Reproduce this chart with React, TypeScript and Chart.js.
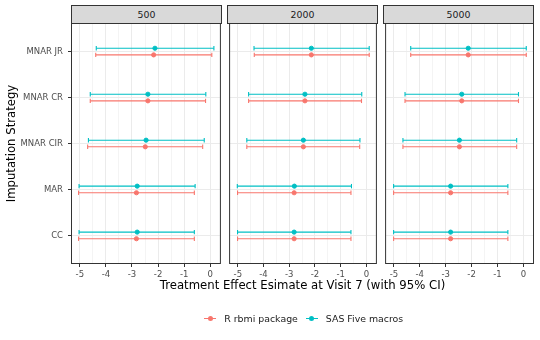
import React, { useEffect, useRef } from "react";
import { Chart, registerables } from "chart.js";

Chart.register(...registerables);

// ---------- data ----------
const STRATEGIES = ["CC", "MAR", "MNAR CIR", "MNAR CR", "MNAR JR"]; // bottom -> top
const SAMPLE_SIZES = ["500", "2000", "5000"];
const SERIES_NAMES = ["R rbmi package", "SAS Five macros"];
const X_TICKS = [-5, -4.5, -4, -3.5, -3, -2.5, -2, -1.5, -1, -0.5, 0];
const X_MIN = -5.3;
const X_MAX = 0.37;
const X_TITLE = "Treatment Effect Esimate at Visit 7 (with 95% CI)";
const Y_TITLE = "Imputation Strategy";

// N = 500
const R_EST_500 = [-2.83, -2.83, -2.49, -2.39, -2.17];
const R_LO_500 = [-5.05, -5.05, -4.7, -4.6, -4.39];
const R_HI_500 = [-0.61, -0.61, -0.29, -0.18, 0.06];
const SAS_EST_500 = [-2.8, -2.8, -2.46, -2.39, -2.12];
const SAS_LO_500 = [-5.03, -5.03, -4.67, -4.6, -4.37];
const SAS_HI_500 = [-0.61, -0.58, -0.23, -0.17, 0.14];

// N = 2000
const R_EST_2000 = [-2.81, -2.81, -2.45, -2.39, -2.14];
const R_LO_2000 = [-5.01, -5.01, -4.65, -4.58, -4.36];
const R_HI_2000 = [-0.6, -0.6, -0.26, -0.19, 0.11];
const SAS_EST_2000 = [-2.81, -2.8, -2.45, -2.39, -2.14];
const SAS_LO_2000 = [-5.01, -5.02, -4.65, -4.58, -4.37];
const SAS_HI_2000 = [-0.6, -0.58, -0.25, -0.18, 0.11];

// N = 5000
const R_EST_5000 = [-2.81, -2.81, -2.47, -2.38, -2.13];
const R_LO_5000 = [-5.01, -5.01, -4.65, -4.57, -4.35];
const R_HI_5000 = [-0.6, -0.6, -0.26, -0.19, 0.11];
const SAS_EST_5000 = [-2.81, -2.81, -2.47, -2.38, -2.13];
const SAS_LO_5000 = [-5.01, -5.01, -4.65, -4.57, -4.35];
const SAS_HI_5000 = [-0.6, -0.6, -0.26, -0.19, 0.11];

const R_EST = [R_EST_500, R_EST_2000, R_EST_5000];
const R_LO = [R_LO_500, R_LO_2000, R_LO_5000];
const R_HI = [R_HI_500, R_HI_2000, R_HI_5000];
const SAS_EST = [SAS_EST_500, SAS_EST_2000, SAS_EST_5000];
const SAS_LO = [SAS_LO_500, SAS_LO_2000, SAS_LO_5000];
const SAS_HI = [SAS_HI_500, SAS_HI_2000, SAS_HI_5000];

// ---------- style / layout ----------
const R_COLOR = "#F8766D";
const SAS_COLOR = "#00BFC4";
const FONT = '"DejaVu Sans", "Liberation Sans", sans-serif';
const W = 540;
const H = 340;
const PANEL_TOP = 24;
const PANEL_BOTTOM = 263;
const PANEL_LEFTS = [72, 228, 384];
const PANEL_WIDTH = 149;
const CANVAS_LEFTS = [0, 225, 381];
const CANVAS_RIGHTS = [225, 381, 540];
const X_AXIS_H = 20;
const DODGE = 0.072;
const TICK_FONT = 8.5;

Chart.defaults.font.family = FONT;

const panelBorder = {
  id: "panelBorder",
  afterDraw(chart: any) {
    const { ctx, chartArea } = chart;
    ctx.save();
    ctx.strokeStyle = "#333333";
    ctx.lineWidth = 1;
    ctx.strokeRect(
      chartArea.left - 0.5,
      chartArea.top - 0.5,
      chartArea.right - chartArea.left + 1,
      chartArea.bottom - chartArea.top + 1
    );
    ctx.restore();
  },
};

function ciDatasets(est: number[], lo: number[], hi: number[], color: string, offset: number) {
  return STRATEGIES.map((s, i) => ({
    type: "line",
    label: s,
    data: [
      { x: lo[i], y: i + 1 + offset },
      { x: est[i], y: i + 1 + offset },
      { x: hi[i], y: i + 1 + offset },
    ],
    borderColor: color,
    backgroundColor: color,
    borderWidth: 1.1,
    tension: 0,
    fill: false,
    pointStyle: ["line", "circle", "line"],
    pointRotation: [90, 0, 90],
    pointRadius: [2.2, 2.1, 2.2],
    pointBorderWidth: [1.1, 1, 1.1],
    pointBackgroundColor: color,
    pointBorderColor: color,
  }));
}

function Panel({ index }: { index: number }) {
  const ref = useRef<HTMLCanvasElement | null>(null);
  const cLeft = CANVAS_LEFTS[index];
  const cWidth = CANVAS_RIGHTS[index] - cLeft;
  const first = index === 0;

  useEffect(() => {
    if (!ref.current) return;
    const panelLeft = PANEL_LEFTS[index];
    const panelRight = panelLeft + PANEL_WIDTH;
    const datasets = [
      ...ciDatasets(R_EST[index], R_LO[index], R_HI[index], R_COLOR, -DODGE),
      ...ciDatasets(SAS_EST[index], SAS_LO[index], SAS_HI[index], SAS_COLOR, DODGE),
    ];
    const isMajor = (ctx: any) => ctx.tick && Number.isInteger(ctx.tick.value);
    const chart = new Chart(ref.current, {
      type: "line",
      data: { datasets } as any,
      plugins: [panelBorder],
      options: {
        animation: false,
        responsive: false,
        events: [],
        layout: {
          padding: {
            left: first ? 0 : panelLeft - cLeft,
            right: CANVAS_RIGHTS[index] - panelRight,
            top: PANEL_TOP,
            bottom: H - PANEL_BOTTOM - X_AXIS_H,
          },
        },
        plugins: { legend: { display: false }, tooltip: { enabled: false } },
        scales: {
          x: {
            type: "linear",
            min: X_MIN,
            max: X_MAX,
            afterBuildTicks: (s: any) => {
              s.ticks = X_TICKS.map((v) => ({ value: v }));
            },
            afterFit: (s: any) => {
              s.height = X_AXIS_H;
              s.paddingLeft = 0;
              s.paddingRight = 0;
            },
            ticks: {
              autoSkip: false,
              maxRotation: 0,
              minRotation: 0,
              padding: 2.5,
              color: "#4d4d4d",
              font: { size: TICK_FONT, family: FONT },
              callback: (v: any) => (Number.isInteger(v) ? String(v) : ""),
            },
            grid: {
              color: "#ebebeb",
              lineWidth: (ctx: any) => (isMajor(ctx) ? 1 : 0.55),
              tickLength: 4,
              tickWidth: 1,
              tickColor: (ctx: any) => (isMajor(ctx) ? "#333333" : "rgba(0,0,0,0)"),
            },
            border: { display: false },
          },
          y: {
            type: "linear",
            min: 0.4,
            max: 5.6,
            afterBuildTicks: (s: any) => {
              s.ticks = STRATEGIES.map((_, i) => ({ value: i + 1 }));
            },
            afterFit: (s: any) => {
              s.width = first ? PANEL_LEFTS[0] : 0;
              s.paddingTop = 0;
              s.paddingBottom = 0;
            },
            ticks: {
              display: first,
              autoSkip: false,
              padding: 5,
              color: "#4d4d4d",
              font: { size: TICK_FONT, family: FONT },
              callback: (v: any) => STRATEGIES[Math.round(v) - 1] ?? "",
            },
            grid: {
              color: "#ebebeb",
              lineWidth: 1,
              drawTicks: first,
              tickLength: 4,
              tickWidth: 1,
              tickColor: "#333333",
            },
            border: { display: false },
            title: {
              display: first,
              text: Y_TITLE,
              color: "#000000",
              font: { size: 11.7, family: FONT },
              padding: { top: 4.5, bottom: 0 },
            },
          },
        },
      } as any,
    });
    return () => chart.destroy();
  }, [index]);

  return (
    <canvas
      ref={ref}
      width={cWidth}
      height={H}
      style={{ position: "absolute", left: cLeft, top: 0, width: cWidth, height: H }}
    />
  );
}

export default function App() {
  const colors = [R_COLOR, SAS_COLOR];
  return (
    <div
      style={{
        position: "fixed",
        left: 0,
        top: 0,
        width: W,
        height: H,
        background: "#ffffff",
        overflow: "hidden",
        fontFamily: FONT,
      }}
    >
      {SAMPLE_SIZES.map((s, i) => (
        <div
          key={s}
          style={{
            position: "absolute",
            left: PANEL_LEFTS[i] - 1,
            top: 5,
            width: PANEL_WIDTH + 2,
            height: 19,
            boxSizing: "border-box",
            background: "#d9d9d9",
            border: "1px solid #333333",
            color: "#1a1a1a",
            fontSize: 9.4,
            lineHeight: "17px",
            textAlign: "center",
          }}
        >
          {s}
        </div>
      ))}
      {SAMPLE_SIZES.map((s, i) => (
        <Panel key={"p" + s} index={i} />
      ))}
      <div
        style={{
          position: "absolute",
          left: PANEL_LEFTS[0],
          width: PANEL_LEFTS[2] + PANEL_WIDTH - PANEL_LEFTS[0],
          top: 278,
          fontSize: 11.7,
          lineHeight: "14px",
          textAlign: "center",
          color: "#000000",
          whiteSpace: "nowrap",
        }}
      >
        {X_TITLE}
      </div>
      <div
        style={{
          position: "absolute",
          left: PANEL_LEFTS[0],
          width: PANEL_LEFTS[2] + PANEL_WIDTH - PANEL_LEFTS[0],
          top: 311,
          height: 14,
          display: "flex",
          justifyContent: "center",
          alignItems: "center",
          fontSize: 9.4,
          color: "#1a1a1a",
          whiteSpace: "nowrap",
        }}
      >
        {SERIES_NAMES.map((name, k) => (
          <div key={name} style={{ display: "flex", alignItems: "center", marginRight: k === 0 ? 5.5 : 0 }}>
            <span style={{ position: "relative", width: 17, height: 14, display: "inline-block" }}>
              <span
                style={{
                  position: "absolute",
                  left: 2.5,
                  right: 2.5,
                  top: 6.5,
                  height: 1.1,
                  background: colors[k],
                }}
              />
              <span
                style={{
                  position: "absolute",
                  left: 6,
                  top: 4.5,
                  width: 5,
                  height: 5,
                  borderRadius: "50%",
                  background: colors[k],
                }}
              />
            </span>
            <span style={{ marginLeft: 5.5 }}>{name}</span>
          </div>
        ))}
      </div>
    </div>
  );
}
